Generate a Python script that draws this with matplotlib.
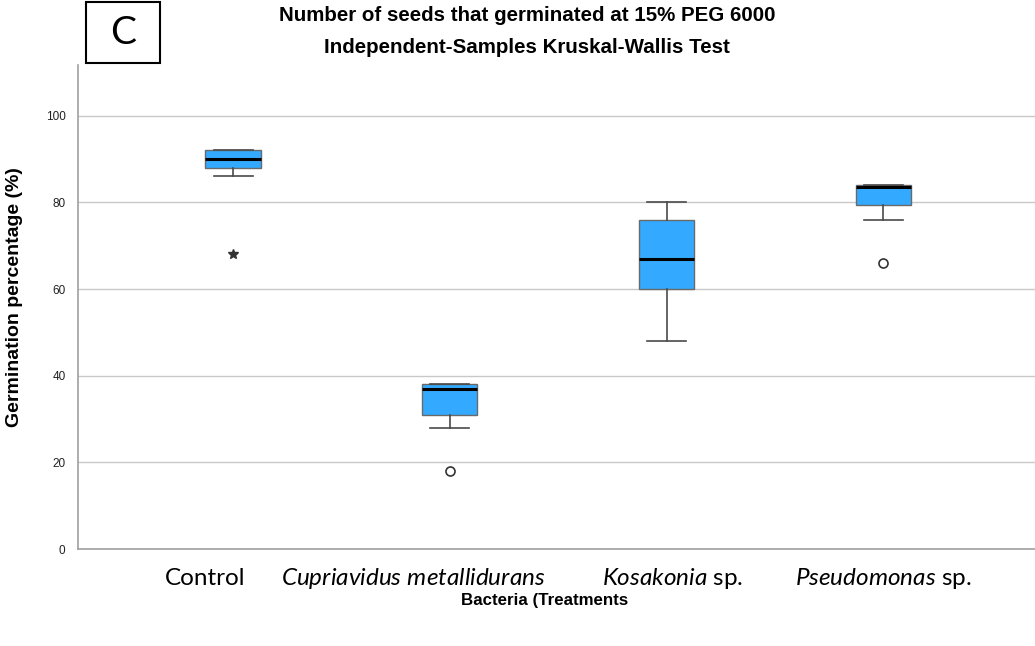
import matplotlib.pyplot as plt
from matplotlib.patches import Rectangle
import matplotlib.transforms as mtransforms

plt.rcParams['font.family'] = ['Liberation Sans', 'DejaVu Sans']
plt.rcParams['mathtext.fontset'] = 'custom'
plt.rcParams['mathtext.it'] = 'Lato:italic'
plt.rcParams['mathtext.rm'] = 'Lato'

# group data (germination %)
groups = ['Control', 'Cupriavidus metallidurans', 'Kosakonia sp.', 'Pseudomonas sp.']
tick_texts = ['Control', r'$\mathit{Cupriavidus\ metallidurans}$',
              r'$\mathit{Kosakonia}$ sp.', r'$\mathit{Pseudomonas}$ sp.']
whislo = [86, 28, 48, 76]
q1 = [88, 31, 60, 79.5]
med = [90, 37, 67, 83.5]
q3 = [92, 38, 76, 84]
whishi = [92, 38, 80, 84]
outliers = [68, 18, None, 66]
outlier_kind = ['extreme', 'mild', None, 'mild']

fig = plt.figure(figsize=(10.35, 6.46), dpi=100)
ax = fig.add_axes([0.0754, 0.150, 0.9246, 0.750])

stats = []
for i, g in enumerate(groups):
    stats.append(dict(label=g, whislo=whislo[i], q1=q1[i], med=med[i],
                      q3=q3[i], whishi=whishi[i], fliers=[]))

ax.bxp(stats, positions=[1, 2, 3, 4], widths=0.255, patch_artist=True,
       showfliers=False,
       boxprops=dict(facecolor='#33AAFF', edgecolor='#6a6a6a', linewidth=1.0),
       medianprops=dict(color='black', linewidth=2.2),
       whiskerprops=dict(color='#4a4a4a', linewidth=1.2),
       capprops=dict(color='#4a4a4a', linewidth=1.2),
       capwidths=0.18, zorder=3)

for i, v in enumerate(outliers):
    if v is None:
        continue
    if outlier_kind[i] == 'extreme':
        ax.plot(i + 1, v, marker='*', color='#333333', markersize=7, zorder=4)
    else:
        ax.plot(i + 1, v, marker='o', mfc='white', mec='#333333', mew=1.2,
                markersize=6.5, zorder=4)

ax.set_xlim(0.285, 4.70)
ax.set_ylim(0, 111.8)
ax.set_yticks([0, 20, 40, 60, 80, 100])
ax.yaxis.grid(True, color='#c8c8c8', linewidth=1.0, zorder=0)
ax.set_axisbelow(True)
ax.tick_params(axis='y', length=0, pad=9, labelsize=8.5, colors='#222222')
ax.set_xticks([])
for s in ['top', 'right']:
    ax.spines[s].set_visible(False)
for s in ['left', 'bottom']:
    ax.spines[s].set_color('#a0a0a0')
    ax.spines[s].set_linewidth(1.2)

ax.set_ylabel('Germination percentage (%)', fontsize=14, fontweight='bold')
ax.yaxis.set_label_coords(-0.058, 0.52)

# category labels, placed as in the figure
trans = mtransforms.blended_transform_factory(ax.transData, fig.transFigure)
label_x = [0.87, 1.83, 3.03, 4.0]
for x, t in zip(label_x, tick_texts):
    ax.text(x, 0.105, t, transform=trans, ha='center', va='center',
            fontsize=17.5, family='Lato')

fig.text(0.526, 0.07, 'Bacteria (Treatments', ha='center', va='center',
         fontsize=12.2, fontweight='bold')

fig.text(0.509, 0.976, 'Number of seeds that germinated at 15% PEG 6000',
         ha='center', va='center', fontsize=14.8, fontweight='bold')
fig.text(0.509, 0.927, 'Independent-Samples Kruskal-Wallis Test',
         ha='center', va='center', fontsize=14.8, fontweight='bold')

# panel letter box
fig.patches.append(Rectangle((86 / 1035, 1 - 63 / 646), 74 / 1035, 61 / 646,
                             transform=fig.transFigure, fill=False,
                             edgecolor='black', linewidth=1.5))
fig.text(123 / 1035, 1 - 33 / 646, 'C', ha='center', va='center',
         fontsize=28, family='Lato')

fig.savefig('out.png', dpi=100)
